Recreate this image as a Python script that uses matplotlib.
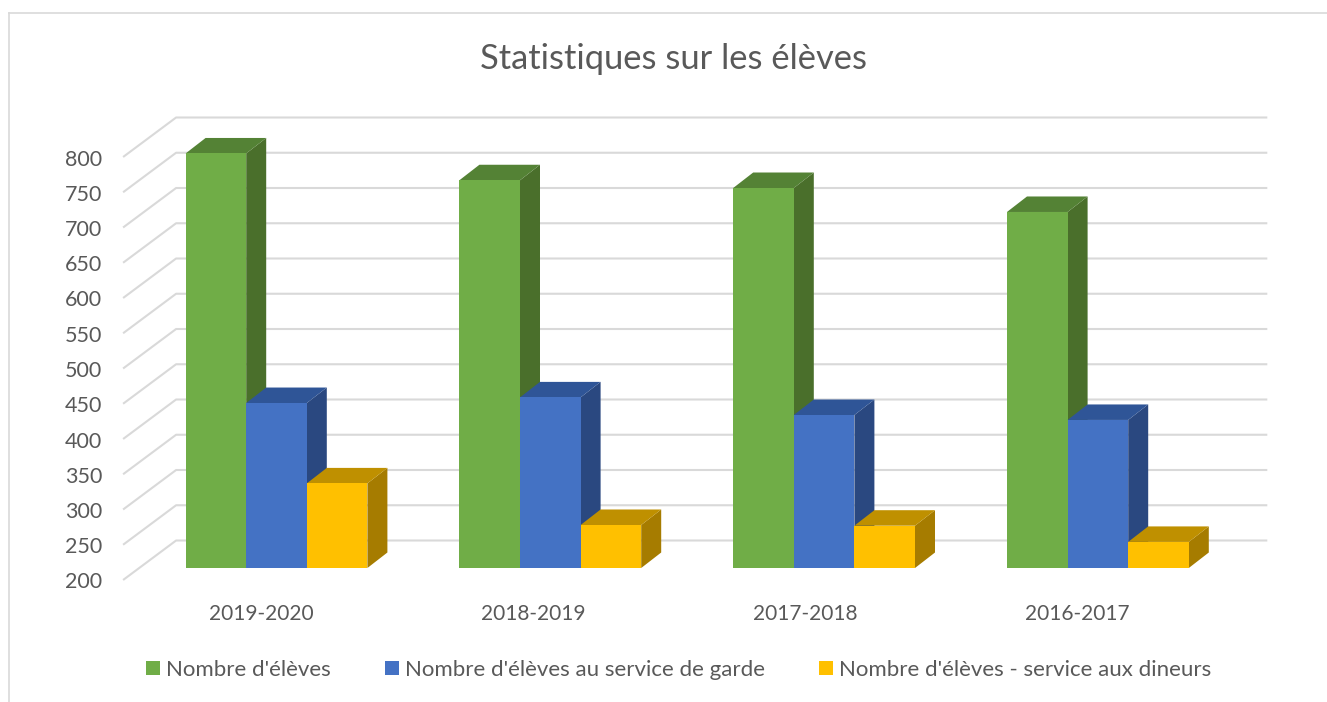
import matplotlib
matplotlib.use("Agg")
import matplotlib.pyplot as plt
from matplotlib.patches import Polygon, Patch
from matplotlib.lines import Line2D
from matplotlib.transforms import Affine2D, ScaledTranslation

W, H = 1327, 702
title = "Statistiques sur les élèves"
years = ["2019-2020", "2018-2019", "2017-2018", "2016-2017"]
eleves = [788, 750, 739, 705]
garde = [434, 442, 417, 410]
dineurs = [320, 261, 260, 237]
yticks = list(range(200, 801, 50))
names = ["Nombre d'élèves", "Nombre d'élèves au service de garde", "Nombre d'élèves - service aux dineurs"]
front = ["#70AD47", "#4472C4", "#FFC000"]
top = ["#548235", "#2F5597", "#BF9000"]
side = ["#4A6F2B", "#2A4880", "#A67C00"]
TXT = "#595959"
GRID = "#D9D9D9"

plt.rcParams["font.family"] = ["Lato", "DejaVu Sans"]
fig = plt.figure(figsize=(W / 100, H / 100), dpi=100)
px = Affine2D().scale(1, -1).translate(0, H)  # pixel coordinates, y downward

for xs, ys in (([9, 9], [H, 13]), ([9, W], [13, 13])):
    fig.add_artist(Line2D(xs, ys, color=GRID, lw=1.2, transform=px))

L, R, B, T = 139.6, 1234.8, 580.0, 157.0
ax = fig.add_axes([L / W, 1 - B / H, (R - L) / W, (B - T) / H])
ax.set_xlim(-0.5, 3.5)
ax.set_ylim(200, 800)
for s in ax.spines.values():
    s.set_visible(False)
sx = (R - L) / 4          # pixels per category
sy = (B - T) / 600        # pixels per unit

# walls: the gridline runs diagonally over the side wall, then along the back wall
back_dx, back_dy = 53 / sx, 39.5 / sy
end_x = 3.5 + 32.5 / sx
for v in yticks:
    ax.plot([-0.5 - 16.5 / sx, -0.5 - 16.5 / sx + back_dx, end_x], [v, v + back_dy, v + back_dy],
            color=GRID, lw=1.5, clip_on=False, zorder=1, solid_capstyle="butt")

lift = 12 / sy            # the bars stand on the middle of the floor
w = 60.6 / sx
dx, dy = 20 / sx, 15.5 / sy
series = [eleves, garde, dineurs]
z = 2
for i in range(len(years)):
    for k, vals in enumerate(series):
        v = vals[i]
        x0 = i + (k - 1.5) * w
        x1 = x0 + w
        y0, y1 = 200 + lift, v + lift
        ax.add_patch(Polygon([(x1, y0), (x1 + dx, y0 + dy), (x1 + dx, y1 + dy), (x1, y1)],
                             fc=side[k], ec="none", clip_on=False, zorder=z))
        ax.add_patch(Polygon([(x0, y1), (x0 + dx, y1 + dy), (x1 + dx, y1 + dy), (x1, y1)],
                             fc=top[k], ec="none", clip_on=False, zorder=z))
        ax.bar(x0 + w / 2, y1 - y0, width=w, bottom=y0, color=front[k], clip_on=False, zorder=z + 0.5)
        z += 1

ax.set_yticks(yticks)
ax.set_yticklabels([str(v) for v in yticks], fontsize=15.5, color=TXT, va="center")
ax.set_xticks([i - 0.057 - 0.0055 * i for i in range(len(years))])
ax.set_xticklabels(years, fontsize=15, color=TXT)
ax.tick_params(axis="y", length=0, pad=27)
ax.tick_params(axis="x", length=0, pad=17)
shift = ScaledTranslation(0, -2.5 / 100, fig.dpi_scale_trans)
for lab in ax.get_yticklabels():
    lab.set_transform(lab.get_transform() + shift)

fig.text(674 / W, 1 - 59 / H, title, ha="center", va="center", fontsize=24.8, color=TXT)

handles = [Patch(fc=c, ec="none") for c in front]
leg = fig.legend(handles, names, loc="center", bbox_to_anchor=(678.5 / W, 1 - 670 / H), ncol=3, frameon=False,
                 fontsize=16, labelcolor=TXT, handlelength=0.63, handleheight=0.63, handletextpad=0.27,
                 columnspacing=2.45, borderpad=0, borderaxespad=0)

fig.savefig("out.png", dpi=100)
